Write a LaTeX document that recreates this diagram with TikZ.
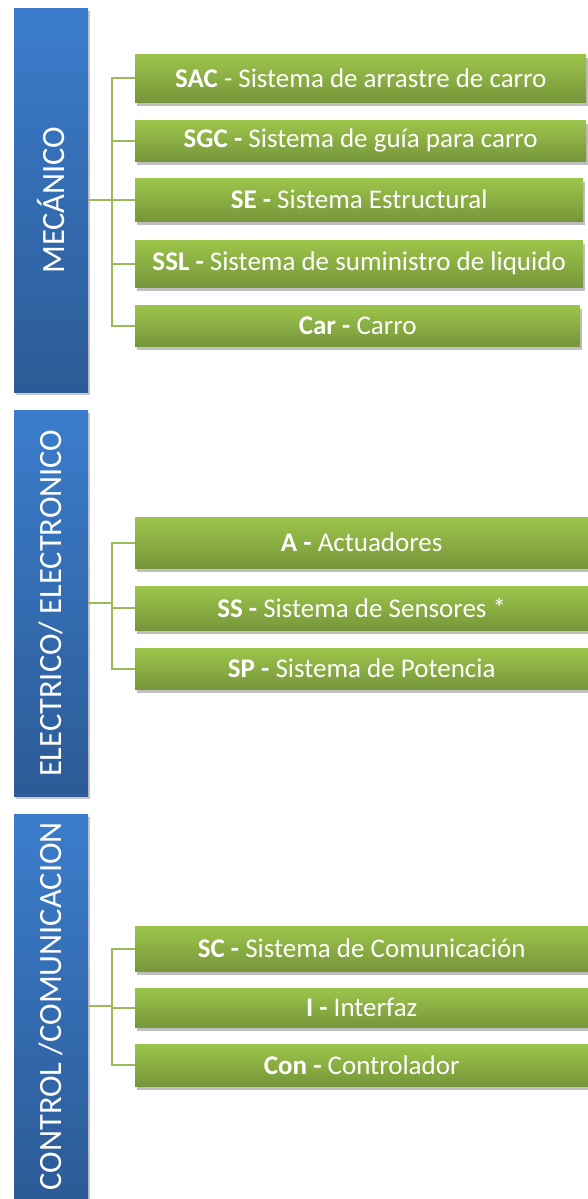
\documentclass[tikz,border=0pt]{standalone}
\usepackage{fontspec}
\setmainfont{Carlito}
\usetikzlibrary{shadows}
\definecolor{bluetop}{HTML}{3B7DCC}
\definecolor{bluebot}{HTML}{2C5B96}
\definecolor{greentop}{HTML}{9DC54B}
\definecolor{greenbot}{HTML}{76963A}
\definecolor{conncol}{HTML}{9BBB59}
\tikzset{
  catbar/.style={anchor=north west, inner sep=0pt, top color=bluetop, bottom color=bluebot, draw=none,
    drop shadow={shadow xshift=1.5pt, shadow yshift=-2.5pt, fill=black, opacity=0.22}},
  cattext/.style={rotate=90, text=white, font=\fontsize{32.5}{36}\selectfont, inner sep=0pt},
  itembox/.style={anchor=north west, inner sep=0pt, top color=greentop, bottom color=greenbot, draw=none,
    text=white, font=\fontsize{27}{30}\selectfont,
    drop shadow={shadow xshift=1.5pt, shadow yshift=-3.5pt, fill=black, opacity=0.25}},
  conn/.style={draw=conncol, line width=2pt},
}
\begin{document}
\begin{tikzpicture}[x=1pt,y=-1pt]
\useasboundingbox[fill=white] (0,0) rectangle (587,1199);
% category bars
\node[catbar, minimum width=74, minimum height=384] (mec) at (14,8) {};
\node[cattext] (mect) at (mec.center) {MECÁNICO};
\node[catbar, minimum width=74, minimum height=386] (ele) at (14,410) {};
\node[cattext] (elet) at (ele.center) {ELECTRICO/ ELECTRONICO};
\node[catbar, minimum width=74, minimum height=384] (con) at (14,814) {};
\node[cattext] (cont) at (con.center) {CONTROL /COMUNICACION};
% section 1 items
\node[itembox, minimum width=451, minimum height=48] (sac) at (135,54) {\textbf{SAC} - Sistema de arrastre de carro};
\node[itembox, minimum width=451, minimum height=41] (sgc) at (135,120) {\textbf{SGC -} Sistema de guía para carro};
\node[itembox, minimum width=448, minimum height=43] (se) at (135,178) {\textbf{SE -} Sistema Estructural};
\node[itembox, minimum width=448, minimum height=47] (ssl) at (135,240) {\textbf{SSL -} Sistema de suministro de liquido};
\node[itembox, minimum width=445, minimum height=41] (car) at (135,305) {\textbf{Car -} Carro};
% section 2 items
\node[itembox, minimum width=453, minimum height=51] (a) at (135,517) {\textbf{A -} Actuadores};
\node[itembox, minimum width=453, minimum height=44] (ss) at (135,586) {\textbf{SS -} Sistema de Sensores *};
\node[itembox, minimum width=453, minimum height=41] (sp) at (135,648) {\textbf{SP -} Sistema de Potencia};
% section 3 items
\node[itembox, minimum width=453, minimum height=45] (sc) at (135,926) {\textbf{SC -} Sistema de Comunicación};
\node[itembox, minimum width=453, minimum height=39] (i) at (135,988) {\textbf{I -} Interfaz};
\node[itembox, minimum width=453, minimum height=42] (cn) at (135,1044) {\textbf{Con -} Controlador};
% connectors
\foreach \b in {sac,sgc,se,ssl,car}{\draw[conn] (mec.east) -- ++(24,0) |- (\b.west);}
\foreach \b in {a,ss,sp}{\draw[conn] (ele.east) -- ++(24,0) |- (\b.west);}
\foreach \b in {sc,i,cn}{\draw[conn] (con.east) -- ++(24,0) |- (\b.west);}
\end{tikzpicture}
\end{document}
